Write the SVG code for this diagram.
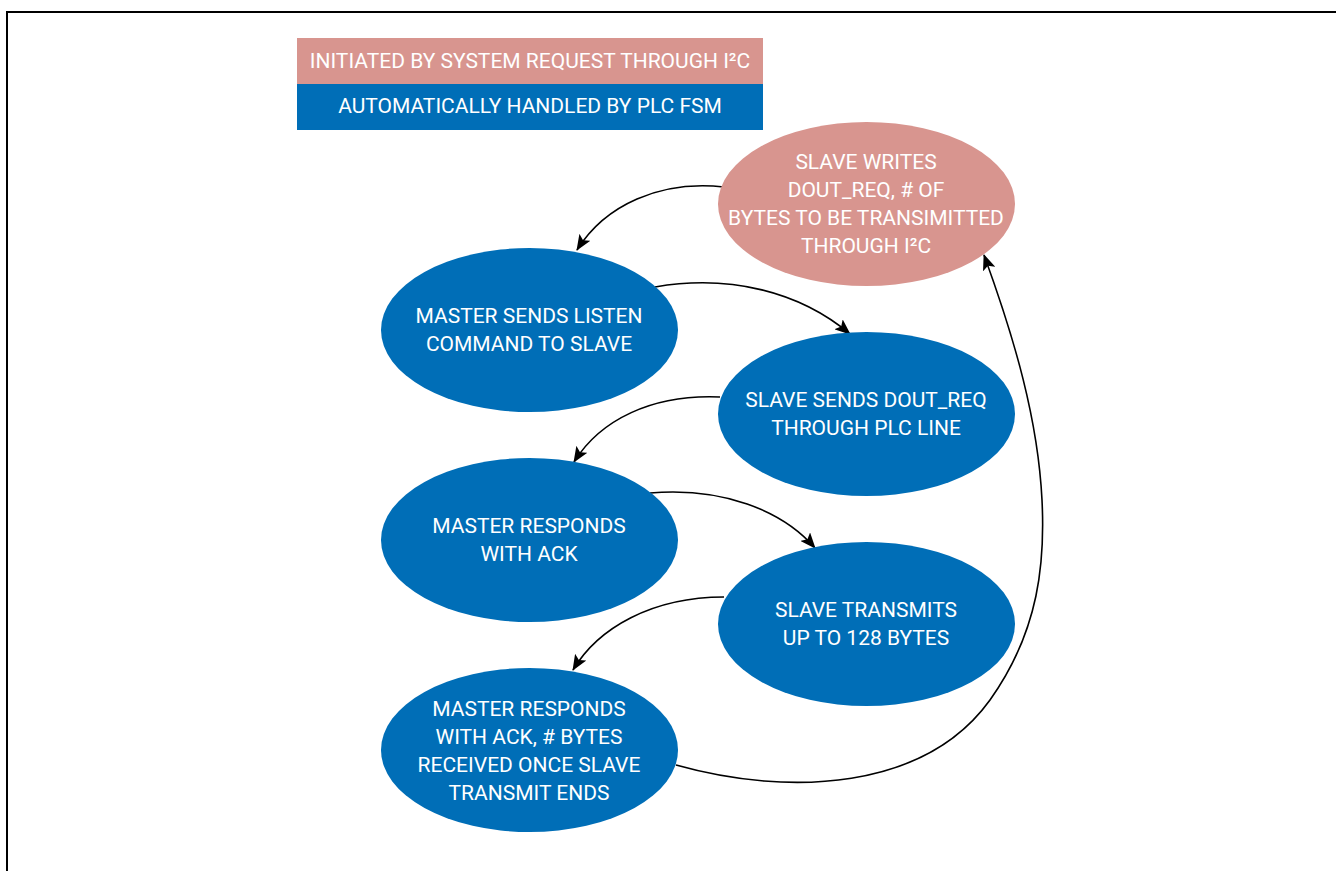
<svg xmlns="http://www.w3.org/2000/svg" width="1336" height="871" viewBox="0 0 1336 871">
<defs>
<marker id="arr" markerWidth="16" markerHeight="13" refX="15" refY="6.5" orient="auto" markerUnits="userSpaceOnUse">
<path d="M0,0 L16,6.5 L0,13 L3.5,6.5 Z" fill="#000"/>
</marker>
<style>
.t{font-family:"Liberation Sans Narrow","Roboto","Liberation Sans",sans-serif;font-size:21px;fill:#fff;text-anchor:middle}
.blue{fill:#006EB7}
.pink{fill:#D8958F}
.c{fill:none;stroke:#000;stroke-width:1.6;marker-end:url(#arr)}
</style>
</defs>
<rect width="1336" height="871" fill="#fff"/>
<path d="M7,871 V12 H1336" fill="none" stroke="#000" stroke-width="2"/>
<g id="legend">
<rect class="pink" x="297" y="38" width="466" height="46"/>
<rect class="blue" x="297" y="84" width="466" height="46"/>
<text class="t" x="530" y="68">INITIATED BY SYSTEM REQUEST THROUGH I²C</text>
<text class="t" x="530" y="113">AUTOMATICALLY HANDLED BY PLC FSM</text>
</g>
<g id="connectors">
<path class="c" d="M724,187 C660,180 605,205 577,250"/>
<path class="c" d="M655,287 C730,274 800,292 850,334"/>
<path class="c" d="M720,397 C652,394 600,420 574,462"/>
<path class="c" d="M650,493 C722,487 782,510 815,548"/>
<path class="c" d="M724,597 C652,597 598,628 573,670"/>
<path class="c" d="M676,765 C790,797 925,790 990,700 C1040,630 1045,560 1042,500 C1038,420 1015,340 984,255"/>
</g>
<g id="n1">
<ellipse class="pink" cx="866.5" cy="204" rx="148.5" ry="82"/>
<text class="t" x="866" y="169">SLAVE WRITES</text>
<text class="t" x="866" y="197">DOUT_REQ, # OF</text>
<text class="t" x="866" y="225">BYTES TO BE TRANSIMITTED</text>
<text class="t" x="866" y="253">THROUGH I²C</text>
</g>
<g id="n2">
<ellipse class="blue" cx="529.5" cy="330" rx="148.5" ry="82"/>
<text class="t" x="529" y="323">MASTER SENDS LISTEN</text>
<text class="t" x="529" y="351">COMMAND TO SLAVE</text>
</g>
<g id="n3">
<ellipse class="blue" cx="866.5" cy="414" rx="148.5" ry="82"/>
<text class="t" x="866" y="407">SLAVE SENDS DOUT_REQ</text>
<text class="t" x="866" y="435">THROUGH PLC LINE</text>
</g>
<g id="n4">
<ellipse class="blue" cx="529.5" cy="540" rx="148.5" ry="82"/>
<text class="t" x="529" y="533">MASTER RESPONDS</text>
<text class="t" x="529" y="561">WITH ACK</text>
</g>
<g id="n5">
<ellipse class="blue" cx="866.5" cy="624" rx="148.5" ry="82"/>
<text class="t" x="866" y="617">SLAVE TRANSMITS</text>
<text class="t" x="866" y="645">UP TO 128 BYTES</text>
</g>
<g id="n6">
<ellipse class="blue" cx="529.5" cy="750" rx="148.5" ry="82"/>
<text class="t" x="529" y="716">MASTER RESPONDS</text>
<text class="t" x="529" y="744">WITH ACK, # BYTES</text>
<text class="t" x="529" y="772">RECEIVED ONCE SLAVE</text>
<text class="t" x="529" y="800">TRANSMIT ENDS</text>
</g>
</svg>
